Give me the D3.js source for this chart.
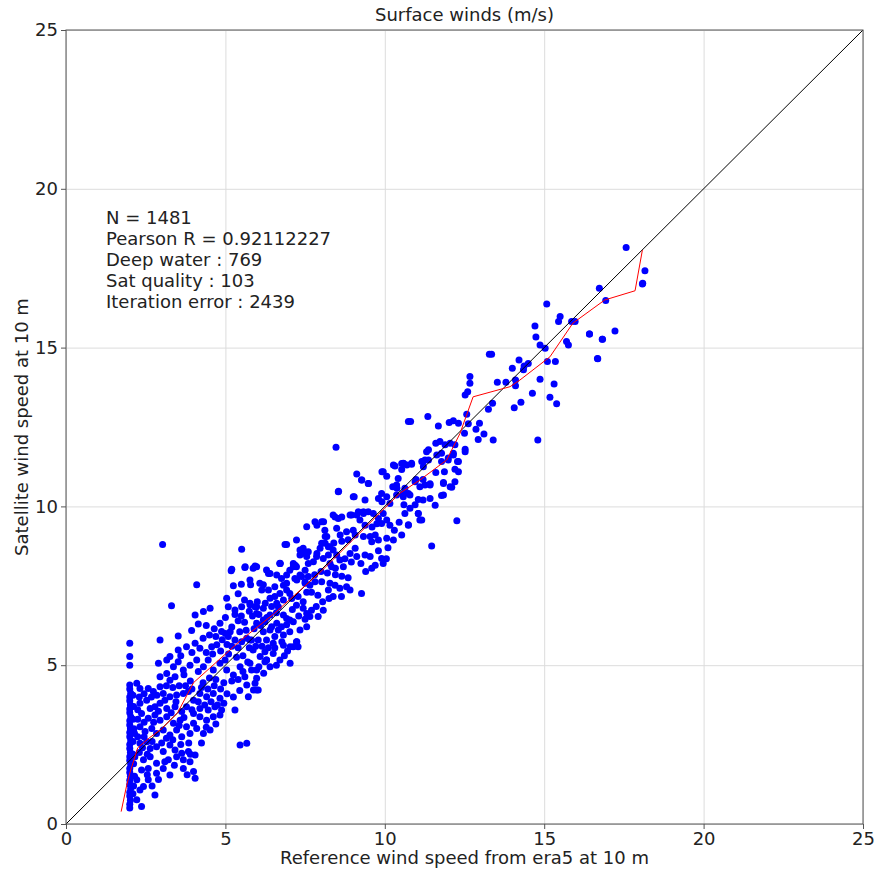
<!DOCTYPE html>
<html>
<head>
<meta charset="utf-8">
<script src="https://cdn.jsdelivr.net/npm/d3@7"></script>
<style>
  body { margin: 0; background: #fff; }
  svg { font-family: "DejaVu Sans", sans-serif; }
</style>
</head>
<body>
<svg id="chart" width="879" height="869"></svg>
<script>
// pairs [reference era5 speed, satellite speed]
var columnWinds = [
  [2.0,0.5],[2.0,0.62],[2.02,0.75],[2.0,0.88],[2.0,1.0],[2.03,1.12],[2.0,1.25],[2.0,1.38],[2.02,1.5],[2.0,1.62],
  [2.0,1.75],[2.03,1.88],[2.0,2.0],[2.0,2.12],[2.02,2.25],[2.0,2.38],[2.0,2.5],[2.03,2.62],[2.0,2.75],[2.0,2.88],
  [2.02,3.0],[2.0,3.12],[2.0,3.25],[2.03,3.38],[2.0,3.5],[2.0,3.62],[2.02,3.75],[2.0,3.88],[2.0,4.0],[2.03,4.12],
  [2.0,4.25],[2.0,4.38],[2.0,5.0],[2.0,5.27],[2.0,5.69],
  [2.1,2.2],[2.12,1.9],[2.1,2.6],[2.13,3.0],[2.1,3.3],[2.12,3.7],[2.1,4.05],[2.15,1.5],[2.12,1.2],[2.1,0.95],[2.15,2.85]
];

var lowWinds = [
  [2.22,4.43],[2.32,4.27],[2.58,4.27],[2.74,4.17],[2.95,4.32],
  [2.95,4.64],[3.16,4.74],[3.26,4.53],[3.42,4.64],
  [3.05,4.11],[3.26,4.01],[3.47,4.06],[3.68,4.11],[3.84,4.17],[4.0,3.9],[4.2,4.11],[4.41,4.01],[4.62,4.11],[4.83,3.96],
  [2.95,3.8],[3.16,3.64],[3.42,3.69],[3.63,3.54],[3.78,3.69],[4.0,3.48],[4.2,3.64],[4.46,3.59],[4.67,3.69],[4.88,3.59],
  [2.32,3.8],[2.53,3.9],[2.64,3.64],[2.79,3.69],
  [2.37,3.48],[2.58,3.33],[2.79,3.43],[2.95,3.27],[3.16,3.38],[3.37,3.17],[3.58,3.27],[3.78,3.06],[4.0,3.17],[4.2,3.38],[4.41,3.27],[4.62,3.38],[4.83,3.43],
  [2.32,3.06],[2.48,2.91],[2.69,3.01],[2.84,2.85],[3.05,2.96],[3.26,2.8],[3.47,2.96],[3.63,2.75],[3.89,2.85],[4.1,3.01],[4.31,2.85],[4.52,2.96],
  [2.32,2.54],[2.53,2.59],[2.64,2.38],[2.84,2.43],[3.05,2.28],[3.26,2.49],[3.42,2.33],[3.63,2.23],[3.84,2.28],[4.05,2.17],
  [2.16,2.12],[2.43,2.02],[2.64,2.12],[2.84,1.91],[3.1,1.96],[3.21,2.02],[3.47,2.12],[3.68,2.02],[3.89,1.96],
  [2.37,1.7],[2.58,1.75],[2.84,1.6],[3.26,1.54],[3.68,1.75],[4.0,1.65],[4.05,1.44],
  [2.22,1.39],[2.43,1.18],[2.58,1.39],[2.32,1.07],[2.79,0.91],[2.22,0.76],[2.37,0.55],
  [4.3,4.45],[4.5,4.6],[4.7,4.55],[4.95,4.45],[5.2,4.5],[3.9,4.5],[3.7,4.7],[4.15,4.8],[4.4,5.4],[4.6,5.35],
  [4.85,5.45],[5.1,5.35],[5.35,5.25],[3.6,5.3],[3.95,5.4],[5.2,6.2],[5.4,6.4],[5.6,6.35],[5.85,6.55],[5.0,6.5],
  [5.18,7.97],[5.61,8.08],[5.93,8.12],[6.35,7.89],[6.71,8.21],[7.13,8.1],[7.34,7.84],[5.77,7.68],[5.79,7.53],[6.19,7.53],
  [4.1,7.53],[5.04,7.11],[5.09,6.84],[5.3,6.74],[5.51,6.84],[5.77,6.9],[5.98,6.84],[6.4,7.11],[6.71,7.26],[6.92,7.58],
  [7.24,7.68],[7.5,7.58],[3.31,6.87],[4.31,6.69],[4.52,6.79],[4.05,6.58],[4.83,6.32],[4.88,6.06],[3.94,6.09],[3.52,5.92],
  [2.95,5.79],[3.26,5.27],[3.52,5.48],[3.78,5.58],[4.05,5.69],[4.2,5.53],[4.57,5.58],[4.73,5.64],[5.09,5.9],[5.3,5.79],
  [5.51,5.74],[5.67,5.85],[5.82,5.79],[6.03,5.79],[6.24,6.37],[6.45,6.21],[6.66,6.11],[6.92,6.27],[7.13,6.37],[7.34,6.11],
  [7.55,6.21],[6.29,5.79],[6.5,5.69],[6.77,5.74],[7.03,5.58],[7.24,5.74],[6.09,5.27],[6.29,5.16],[6.5,5.37],[6.71,5.16],
  [7.03,5.06],[2.9,5.06],[3.16,5.16],[3.37,4.95],[3.52,5.11],[3.68,4.85],[3.89,5.0],[4.1,5.16],[4.31,4.95],[4.46,5.16],
  [4.62,4.85],[4.83,5.06],[4.99,5.16],[5.04,4.85],[5.25,4.69],[5.46,4.95],[5.61,4.64],[5.82,4.85],[5.98,4.59],[5.67,4.38],
  [5.88,4.22],[6.03,4.22],[5.72,4.01],[5.3,3.59],[5.46,2.49],[5.67,2.54],[3.03,8.8]
];

// extra points in the crowded band along the diagonal
var denseWinds = [
  [2.25,2.75],[2.45,3.2],[2.55,2.2],[2.7,2.6],[2.9,3.55],[2.68,4.0],[2.45,4.1],[2.85,4.05],[3.1,3.9],[3.3,3.5],
  [3.45,3.85],[3.55,4.35],[3.75,4.35],[3.95,4.25],[3.15,4.35],[3.35,4.3],[2.75,3.2],[2.45,2.75],[3.0,2.55],[3.15,2.7],
  [3.35,2.65],[3.55,3.1],[3.7,3.35],[3.95,3.6],[4.15,3.85],[4.35,3.75],[4.55,3.85],[4.75,3.75],[4.95,3.8],[4.25,4.3],
  [4.45,4.25],[4.65,4.35],[4.85,4.25],[5.05,4.1],[5.25,4.0],[5.45,4.2],[5.4,4.55],[5.55,4.8],[5.7,5.1],[5.55,5.3],
  [5.4,5.55],[5.2,5.6],[5.05,5.65],[4.9,5.8],[4.7,5.9],[4.5,5.95],[4.3,5.85],[4.15,6.3],[4.4,6.25],[4.65,6.15],
  [5.0,6.0],[5.15,6.05],[5.45,6.05],[5.65,6.1],[5.9,6.15],[6.1,6.25],[5.75,5.55],[5.95,5.6],[6.15,5.6],[6.35,5.55],
  [6.55,5.55],[6.05,4.95],[6.2,4.75],[6.4,4.95],[6.6,5.0],[6.85,5.3],[6.95,5.45],[5.6,7.05],[5.4,7.25],[5.25,7.5],
  [5.5,7.55],[6.0,7.0],[6.25,6.95],[6.45,6.85],[6.6,6.65],[6.3,6.5],[6.05,6.6],[5.75,6.7],[5.5,6.55],[5.3,6.6],
  [7.1,6.75],[7.3,6.55],[7.5,6.45],[7.85,6.85],[8.05,7.0],[8.25,7.1],[7.9,7.2],[7.7,7.3],[7.55,7.3],[7.8,7.85],
  [8.0,7.95],[8.2,7.9],[8.45,7.85],[8.65,7.8],[8.85,7.75],[8.45,8.05],[8.75,8.35],[8.95,8.25],[9.25,8.2],[9.4,7.95],
  [9.7,8.15],[9.8,8.6],[10.1,8.7],[10.3,9.25],[10.45,9.5],[10.6,10.05],[10.95,10.05],[9.6,9.35],[9.75,9.45],[8.65,8.9],
  [8.85,8.95],[8.4,8.85],[8.6,9.1],[3.6,2.5],[3.85,2.55],[3.9,2.2],[4.25,2.55],[4.4,3.05],[4.7,3.15],[3.4,1.85],
  [2.9,1.4],[3.05,1.75],[2.55,1.55],[2.7,1.2],[3.8,1.55],[2.3,2.25],[2.4,2.4],[2.25,3.3],[2.25,3.6],[2.3,4.0]
];

var midWinds = [
  [11.31,11.72],[11.37,11.46],[11.63,11.62],[11.78,11.67],[11.99,11.46],[12.15,11.62],[12.31,11.41],[12.52,11.72],
  [10.27,11.3],[10.53,11.35],[10.69,11.3],[10.84,11.33],[11.16,11.41],[11.21,11.25],
  [9.12,11.02],[9.95,11.09],[10.06,10.95],[9.27,10.83],[9.48,10.72],[10.42,10.88],[10.37,10.67],[10.95,10.78],[11.1,10.62],
  [11.26,10.67],[11.42,10.67],[11.84,10.72],[12.05,10.62],[11.84,10.36],[12.2,10.78],[12.31,11.09],
  [8.54,10.46],[9.01,10.3],[9.38,10.2],[9.8,10.25],[9.9,10.41],[10.06,10.3],[10.16,10.09],[10.37,10.36],[10.58,10.3],
  [10.74,10.41],[11.05,10.22],[11.2,10.2],[11.42,10.25],[11.58,10.04],[10.79,9.94],[10.63,9.78],
  [8.38,9.73],[8.54,9.62],[8.96,9.73],[9.17,9.83],[9.33,9.78],[9.48,9.83],[9.64,9.78],[9.8,9.62],[9.95,9.78],[10.06,9.57],
  [9.22,9.57],[9.38,9.41],[9.9,9.46],[10.16,9.41],[8.02,9.52],[8.12,9.25],[8.18,9.05],[7.55,9.36],[7.81,9.52],[8.49,9.31],
  [8.8,9.2],[9.01,9.25],[9.07,9.1],[9.33,9.05],[9.54,9.05],[9.7,9.1],[9.59,8.89],[9.8,8.94],[10.06,9.0],[10.27,8.94],
  [10.53,9.1],[10.74,9.41],[11.05,9.78],[11.1,9.57],[11.47,8.75],[12.26,9.55],[10.05,8.35],
  [6.87,8.8],[7.23,8.94],[7.34,8.63],[7.44,8.68],[7.6,8.57],[7.34,8.47],[7.97,8.68],[8.23,8.73],[8.38,8.63],[8.49,8.47],
  [7.86,8.42],[8.07,8.36],[8.23,8.47],[8.59,8.31],[8.7,8.1],[8.91,8.52],[9.12,8.42],[9.07,8.68],[9.38,8.47],[9.54,8.42],
  [9.59,8.05],[9.9,8.36],[9.95,8.2],[8.28,8.2],[8.33,8.1],[7.6,8.2],[7.5,7.99],[7.76,8.26],[6.71,8.2],[7.13,8.2],
  [7.23,8.1],[7.02,7.99],[5.87,8.05],[5.98,8.1],[6.29,8.0],[6.4,7.89],
  [6.61,7.84],[6.76,7.73],[6.92,7.84],[7.18,7.73],[7.39,7.79],[7.6,7.79],[7.5,7.63],[7.65,7.52],[7.81,7.63],[8.02,7.63],
  [8.28,7.58],[8.44,7.52],[8.59,7.42],[8.8,7.47],[8.91,7.37],[9.27,7.26],[8.23,7.37],[8.38,7.16],[8.64,7.16],
  [6.08,7.58],[6.14,7.37],[6.35,7.37],[6.55,7.47],[6.82,7.52],[6.92,7.37],[7.02,7.26],[6.55,7.16],[6.61,6.95],[6.82,7.05],
  [7.08,7.1],[7.23,6.89],[7.28,7.16],[7.44,7.0],[7.44,6.79],[7.55,6.63],[7.7,6.73],[7.91,6.53],[8.07,6.73],[7.65,6.53],
  [5.77,6.95],[5.93,6.84],[5.98,6.63],[6.19,6.79],[6.19,6.42],[6.4,6.58],[6.66,6.84],[6.82,6.58],[6.92,6.47],[6.61,6.32],
  [6.76,6.21],[7.02,6.42],[5.98,6.32],[6.19,6.05],[6.4,6.11],[6.55,5.9],[6.82,5.95],[7.02,6.05],[7.23,5.74],[7.28,5.58],
  [5.77,5.79],[5.87,5.48],[6.24,5.42],[6.29,5.16],[5.77,5.06],[5.98,4.85],[6.24,5.11],[5.93,4.43],[5.98,4.22],[6.82,5.63],[7.13,5.58],
  [8.47,11.86],[8.55,10.48],[9.28,10.83],[9.49,10.72],[9.91,11.09],[10.32,11.27],[10.59,11.35],[10.53,11.16],[10.74,12.67],
  [10.25,10.62],[10.38,10.57],[9.04,10.3],[9.91,10.15],[8.44,9.67],[8.65,9.67],[8.91,9.73],[9.12,9.73],[9.33,9.83],
  [7.87,9.41],[8.08,9.52],[6.92,8.8],[5.51,8.65],[8.13,9.05],[8.13,8.84],[8.02,8.84],[8.28,8.73],[7.4,8.57],[7.5,8.52],
  [7.55,8.42],[7.87,8.52],[5.62,8.1],[5.2,8.02],[6.72,8.2],[7.19,8.15]
];

var highWinds = [
  [16.73,16.87],[18.09,17.03],[15.08,16.37],[15.5,15.98],[15.45,15.82],[14.71,15.68],[14.74,15.33],[15.86,15.82],[15.97,15.82],
  [14.87,15.08],[15.03,14.98],[15.7,15.19],[15.76,15.08],[16.42,15.43],[16.83,15.26],[17.22,15.52],[16.67,14.66],[15.1,14.56],
  [15.35,14.56],[13.28,14.79],[13.35,14.79],[14.21,14.61],[14.37,14.42],[14.5,14.5],[14.0,14.35],[14.35,14.3],[13.53,13.91],
  [13.8,13.91],[14.1,13.98],[14.1,13.8],[14.87,14.0],[15.31,13.85],[14.63,13.56],[15.18,13.44],[15.39,13.23],[14.27,13.28],
  [14.06,13.11],[12.67,14.09],[12.67,13.88],[12.52,13.51],[12.6,13.61],[12.57,12.9],[13.25,13.06],[13.38,13.25],[10.81,12.67],
  [11.35,12.83],[11.68,12.53],[12.02,12.64],[12.15,12.7],[12.31,12.62],[12.62,12.6],[12.97,12.62],[12.86,12.43],[13.11,12.28],
  [12.93,12.11],[13.4,12.09],[12.5,12.3],[14.8,12.09],[11.6,11.99],[11.73,12.04],[11.89,11.94],[12.05,11.99],[11.37,11.78],
  [12.2,11.94],[12.52,11.8],[12.15,11.67],[11.78,11.41],[11.99,11.52],[12.28,11.41],[11.2,11.41],[11.26,11.46],[10.84,11.36],
  [10.58,11.36],[12.2,11.17],[11.87,11.09],[11.6,11.07],[10.98,10.85],[11.2,10.85],[11.42,10.71],[11.84,10.75],[12.1,10.6],
  [10.63,10.57],[10.79,10.36],[10.58,10.41],[11.78,10.34],[11.05,9.78],[11.16,9.57],[10.74,9.42],
  [17.57,18.15],[18.16,17.42],[18.08,17.0],[16.93,16.48],[16.42,15.43],[16.82,15.26],[16.68,14.65]
];

// binned mean curve
var binRef = [1.73,1.9,2.0,2.25,2.6,3.0,3.5,4.0,4.5,5.0,5.5,6.0,6.5,7.0,7.5,8.0,8.5,9.0,9.5,10.0,10.48,11.1,11.94,12.36,12.77,13.93,14.24,15.18,15.9,16.9,17.85,18.08];
var binSat = [0.39,1.2,1.6,2.4,2.7,3.0,3.5,4.45,4.9,5.35,5.8,6.2,6.6,7.05,7.5,7.95,8.45,8.95,9.45,9.95,10.42,10.83,11.46,12.3,13.45,13.77,13.98,14.71,15.77,16.5,16.79,18.07];

var ticks = [0, 5, 10, 15, 20, 25];
var statLines = ["N = 1481", "Pearson R = 0.92112227", "Deep water : 769", "Sat quality : 103", "Iteration error : 2439"];

var svg = d3.select('#chart');
var plotLeft = 66, plotRight = 863, plotTop = 30, plotBottom = 824;

var x = d3.scaleLinear().domain([0, 25]).range([plotLeft, plotRight]);
var y = d3.scaleLinear().domain([0, 25]).range([plotBottom, plotTop]);

// grid
svg.append('g')
  .attr('transform', 'translate(0,' + plotBottom + ')')
  .call(d3.axisBottom(x).tickValues(ticks).tickSize(-(plotBottom - plotTop)).tickFormat(''))
  .call(function(g) { g.select('.domain').remove(); })
  .selectAll('line').attr('stroke', '#dcdcdc');
svg.append('g')
  .attr('transform', 'translate(' + plotLeft + ',0)')
  .call(d3.axisLeft(y).tickValues(ticks).tickSize(-(plotRight - plotLeft)).tickFormat(''))
  .call(function(g) { g.select('.domain').remove(); })
  .selectAll('line').attr('stroke', '#dcdcdc');

svg.append('clipPath').attr('id', 'clip')
  .append('rect').attr('x', plotLeft).attr('y', plotTop)
  .attr('width', plotRight - plotLeft).attr('height', plotBottom - plotTop);

var plot = svg.append('g').attr('clip-path', 'url(#clip)');

var allPoints = columnWinds.concat(lowWinds, denseWinds, midWinds, highWinds);
plot.selectAll('circle')
  .data(allPoints)
  .enter()
  .append('circle')
  .attr('cx', function(d) { return x(d[0]); })
  .attr('cy', function(d) { return y(d[1]); })
  .attr('r', 3.5)
  .attr('fill', '#0000ff');

// 1:1 line
plot.append('path')
  .attr('d', d3.line()([[x(0), y(0)], [x(25), y(25)]]))
  .attr('stroke', '#000')
  .attr('stroke-width', 1)
  .attr('fill', 'none');

var binPts = binRef.map(function(v, i) { return [v, binSat[i]]; });
plot.append('path')
  .datum(binPts)
  .attr('d', d3.line().x(function(d) { return x(d[0]); }).y(function(d) { return y(d[1]); }))
  .attr('stroke', '#ff0000')
  .attr('stroke-width', 1)
  .attr('fill', 'none');

// axes
var xAxis = svg.append('g')
  .attr('transform', 'translate(0,' + plotBottom + ')')
  .call(d3.axisBottom(x).tickValues(ticks).tickSize(5).tickPadding(3));
var yAxis = svg.append('g')
  .attr('transform', 'translate(' + plotLeft + ',0)')
  .call(d3.axisLeft(y).tickValues(ticks).tickSize(5).tickPadding(3));
[xAxis, yAxis].forEach(function(a) {
  a.select('.domain').remove();
  a.selectAll('line').attr('stroke', '#555');
  a.selectAll('text').attr('font-size', 18).attr('fill', '#222').attr('font-family', '"DejaVu Sans", sans-serif');
});

svg.append('rect')
  .attr('x', plotLeft).attr('y', plotTop)
  .attr('width', plotRight - plotLeft).attr('height', plotBottom - plotTop)
  .attr('fill', 'none').attr('stroke', '#555').attr('stroke-width', 1);

// labels
svg.append('text').attr('x', (plotLeft + plotRight) / 2).attr('y', 21)
  .attr('text-anchor', 'middle').attr('font-size', 18).attr('fill', '#222')
  .text('Surface winds (m/s)');
svg.append('text').attr('x', (plotLeft + plotRight) / 2).attr('y', 864)
  .attr('text-anchor', 'middle').attr('font-size', 18).attr('fill', '#222')
  .text('Reference wind speed from era5 at 10 m');
svg.append('text')
  .attr('transform', 'translate(28,' + (plotTop + plotBottom) / 2 + ') rotate(-90)')
  .attr('text-anchor', 'middle').attr('font-size', 18).attr('fill', '#222')
  .text('Satellite wind speed at 10 m');

svg.append('g').selectAll('text')
  .data(statLines)
  .enter()
  .append('text')
  .attr('x', 106)
  .attr('y', function(d, i) { return 224 + i * 21; })
  .attr('font-size', 18)
  .attr('fill', '#222')
  .text(function(d) { return d; });
</script>
</body>
</html>
